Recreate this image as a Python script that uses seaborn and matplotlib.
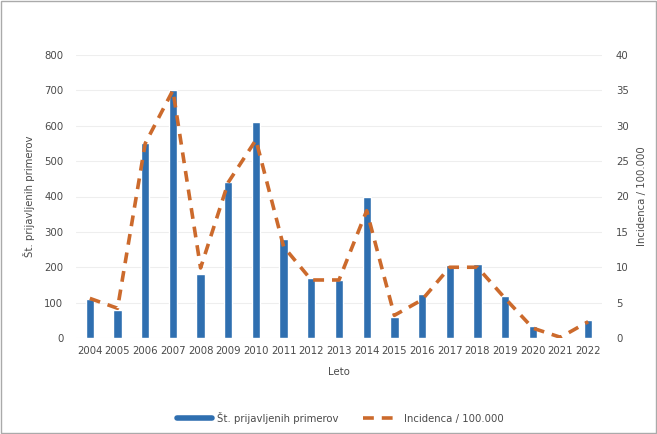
import numpy as np
import pandas as pd
import matplotlib
matplotlib.use('Agg')
import matplotlib.pyplot as plt
from matplotlib.lines import Line2D
from matplotlib.patches import Rectangle
import seaborn as sns

# podatki
leta = [str(y) for y in range(2004, 2023)]
primeri = [110, 80, 550, 700, 180, 440, 610, 280, 170, 165,
           400, 60, 125, 205, 210, 120, 35, 2, 50]
incidenca = [5.6, 4.2, 27.5, 35.0, 9.9, 22.0, 28.0, 12.9, 8.2, 8.2,
             18.0, 3.2, 5.4, 10.0, 10.0, 5.6, 1.4, 0.1, 2.3]

df = pd.DataFrame({'Leto': leta, 'Primeri': primeri, 'Incidenca': incidenca})
df['poz'] = np.arange(len(df))

sns.set_style('white')
plt.rcParams['font.family'] = ['DejaVu Sans']

modra = '#2f6fb0'
oranzna = '#cc6a2c'
siva = '#4a4a4a'
fs = 7.3

fig = plt.figure(figsize=(6.57, 4.34), dpi=100)
ax = fig.add_axes([76 / 657, 1 - 338 / 434, 526 / 657, 283 / 434])

sns.barplot(data=df, x='Leto', y='Primeri', color=modra, width=0.3,
            saturation=1, ax=ax)
ax.set_ylim(0, 800)
ax.set_xlim(-0.5, len(df) - 0.5)
ax.set_yticks(range(0, 801, 100))
ax.yaxis.grid(True, color='#eeeeee', lw=0.8)
ax.set_axisbelow(True)
ax.set_xlabel('Leto', fontsize=fs, color=siva, labelpad=8)
ax.set_ylabel('Št. prijavljenih primerov', fontsize=fs, color=siva, labelpad=7)
ax.tick_params(axis='both', length=0, labelsize=fs, colors=siva)
ax.tick_params(axis='y', pad=9)
ax.tick_params(axis='x', pad=6)
for s in ax.spines.values():
    s.set_visible(False)

ax2 = ax.twinx()
sns.lineplot(data=df, x='poz', y='Incidenca', color=oranzna, lw=2.6,
             linestyle=(0, (3, 2.2)), ax=ax2)
ax2.set_ylim(0, 40)
ax2.set_yticks(range(0, 41, 5))
ax2.set_ylabel('Incidenca / 100.000', fontsize=fs, color=siva, labelpad=6)
ax2.tick_params(axis='y', length=0, labelsize=fs, colors=siva, pad=10)
for s in ax2.spines.values():
    s.set_visible(False)
ax.set_xlim(-0.5, len(df) - 0.5)

roc = [Line2D([], [], color=modra, lw=4),
       Line2D([], [], color=oranzna, lw=2.6, linestyle=(0, (3, 2.2)))]
fig.legend(roc, ['Št. prijavljenih primerov', 'Incidenca / 100.000'],
           loc='center', bbox_to_anchor=(340 / 657, 1 - 418 / 434), ncol=2,
           frameon=False, fontsize=fs, labelcolor=siva, handlelength=3.5,
           handletextpad=0.5, columnspacing=2.4)

fig.add_artist(Rectangle((0.002, 0.003), 0.996, 0.994, transform=fig.transFigure,
                         fill=False, edgecolor='#aaaaaa', lw=1))

fig.savefig('out.png', dpi=100)
